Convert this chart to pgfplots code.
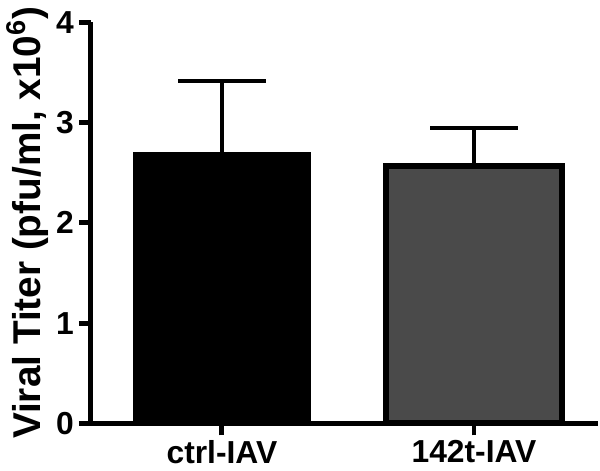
\documentclass[border=0pt]{standalone}
\usepackage{pgfplots}
\pgfplotsset{compat=1.18}
\usepackage{fontspec}
\setmainfont{Liberation Sans}
\definecolor{bargray}{HTML}{4A4A4A}

\begin{document}
\begin{tikzpicture}
\begin{axis}[
    scale only axis,
    width=255pt, height=202pt,
    ymin=0, ymax=4,
    xmin=-0.52, xmax=1.49,
    ytick={0,1,2,3,4},
    xtick={0,1},
    xticklabels={ctrl-IAV,142t-IAV},
    axis x line*=bottom,
    axis y line*=left,
    axis line style={line width=2.5pt,-},
    tick align=outside,
    major tick length=6pt,
    tick style={line width=2.5pt,black},
    /pgf/number format/assume math mode=true,
    yticklabel style={font=\bfseries\fontsize{16}{18}\selectfont, xshift=1pt},
    xticklabel style={font=\bfseries\fontsize{16}{18}\selectfont, yshift=1pt},
    ylabel={Viral Titer (pfu/ml, x10\textsuperscript{6})},
    ylabel style={font=\bfseries\fontsize{19.5}{21}\selectfont, yshift=-3pt},
    bar width=0.70,
    clip=false,
]
\addplot[ybar, fill=black, draw=black, line width=1pt,
    error bars/.cd, y dir=plus, y explicit,
    error bar style={line width=2pt,black},
    error mark options={rotate=90, mark size=22pt, line width=2pt}]
    coordinates {(0,2.70) +- (0,0.71)};
\addplot[ybar, fill=bargray, draw=black, line width=3pt,
    error bars/.cd, y dir=plus, y explicit,
    error bar style={line width=2pt,black},
    error mark options={rotate=90, mark size=22pt, line width=2pt}]
    coordinates {(1,2.57) +- (0,0.37)};
\end{axis}
\end{tikzpicture}
\end{document}
